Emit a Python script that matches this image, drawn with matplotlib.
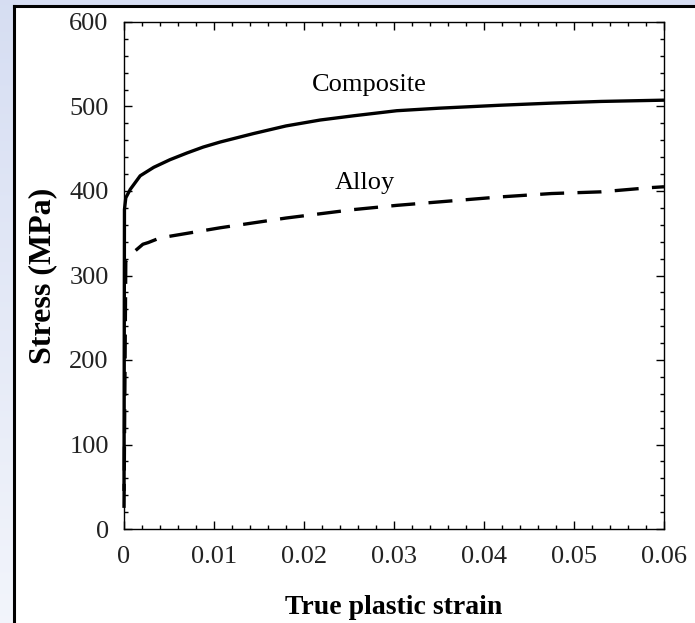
import numpy as np
import matplotlib
matplotlib.use("Agg")
import matplotlib.pyplot as plt
from matplotlib.lines import Line2D
from matplotlib.patches import Rectangle
from matplotlib.ticker import MultipleLocator

plt.rcParams["font.family"] = ["Liberation Serif", "DejaVu Serif"]

# values
comp_strain = [0, 0.00005, 0.0002, 0.0007, 0.0018, 0.0033, 0.0051, 0.007, 0.0088,
               0.0107, 0.0144, 0.018, 0.0218, 0.0255, 0.0303, 0.035, 0.0418,
               0.0475, 0.053, 0.06]
comp_stress = [45, 378, 392, 402, 418, 428, 437, 445, 452,
               458, 468, 477, 484, 489, 495, 498, 501.5,
               504, 506, 507.5]

alloy_strain = [0, 0.0002, 0.001, 0.0021, 0.0027, 0.004, 0.0107, 0.018,
                0.0255, 0.0303, 0.0418, 0.0475, 0.053, 0.0585, 0.06]
alloy_stress = [25, 317, 327, 337, 339, 344.5, 356.5, 368,
                378, 383, 393, 397, 399, 404, 405]

x_ticks = [0, 0.01, 0.02, 0.03, 0.04, 0.05, 0.06]
x_labels = ["0", "0.01", "0.02", "0.03", "0.04", "0.05", "0.06"]
y_ticks = [0, 100, 200, 300, 400, 500, 600]

W, H = 695, 623
fig = plt.figure(figsize=(W / 100, H / 100), dpi=100)

# slide-like background: light blue gradient, white panel with black edge
bg = fig.add_axes([0, 0, 1, 1])
grad = np.linspace(0, 1, 256).reshape(-1, 1)
top_col = np.array([0.84, 0.87, 0.95])
bot_col = np.array([0.95, 0.96, 0.985])
img = top_col + (bot_col - top_col) * grad[:, :, None]
bg.imshow(img, aspect="auto", extent=[0, 1, 0, 1], origin="upper")
bg.set_xlim(0, 1)
bg.set_ylim(0, 1)
bg.axis("off")
px, py = 14 / W, 1 - 6 / H
bg.add_patch(Rectangle((px, 0), 1 - px, py, facecolor="white", edgecolor="none"))
bg.add_line(Line2D([px, px], [0, py], color="black", lw=2.2))
bg.add_line(Line2D([px, 1], [py, py], color="black", lw=2.2))

ax = fig.add_axes([124 / W, 1 - 529 / H, 540 / W, 507 / H])
ax.patch.set_alpha(0)

ax.plot(comp_strain, comp_stress, color="black", lw=2.4,
        solid_capstyle="butt", clip_on=False)
ax.plot(alloy_strain, alloy_stress, color="black", lw=2.4,
        dashes=(7.2, 4.0), dash_capstyle="butt", clip_on=False)

ax.text(0.0273, 526, "Composite", fontsize=19, ha="center", va="center")
ax.text(0.0268, 410, "Alloy", fontsize=19, ha="center", va="center")

ax.set_xlim(0, 0.06)
ax.set_ylim(0, 600)
ax.set_xticks(x_ticks)
ax.set_xticklabels(x_labels)
ax.set_yticks(y_ticks)
ax.xaxis.set_minor_locator(MultipleLocator(0.002))
ax.yaxis.set_minor_locator(MultipleLocator(20))

ax.tick_params(which="both", direction="in", top=True, right=True, width=1.0)
ax.tick_params(which="major", length=6, labelsize=19, labelcolor="#222222")
ax.tick_params(which="minor", length=3)
ax.tick_params(axis="x", which="major", pad=12)
ax.tick_params(axis="y", which="major", pad=11)
for s in ax.spines.values():
    s.set_linewidth(1.0)

ax.set_xlabel("True plastic strain", fontsize=20, fontweight="bold", labelpad=20)
ax.set_ylabel("Stress (MPa)", fontsize=23, fontweight="bold", labelpad=9)

fig.savefig("out.png", dpi=100)
